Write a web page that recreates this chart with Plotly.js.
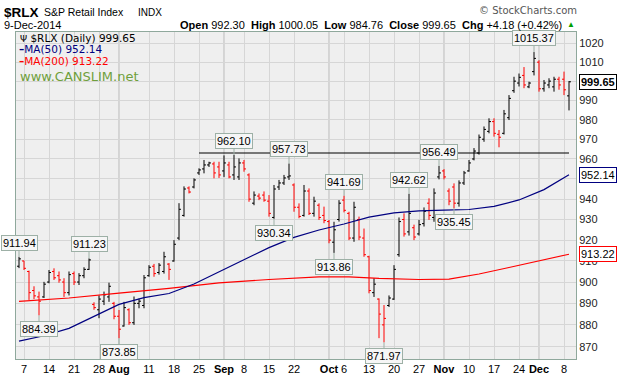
<!DOCTYPE html>
<html><head><meta charset="utf-8">
<script src="https://cdn.plot.ly/plotly-3.0.1.min.js"></script>
<style>html,body{margin:0;padding:0;background:#fff}#chart{width:617px;height:377px}</style>
</head><body><div id="chart"></div>
<script>
const dates = [
'2014-07-03','2014-07-07','2014-07-08','2014-07-09','2014-07-10','2014-07-11','2014-07-14','2014-07-15','2014-07-16','2014-07-17','2014-07-18','2014-07-21','2014-07-22','2014-07-23','2014-07-24','2014-07-25','2014-07-28','2014-07-29','2014-07-30','2014-07-31',
'2014-08-01','2014-08-04','2014-08-05','2014-08-06','2014-08-07','2014-08-08','2014-08-11','2014-08-12','2014-08-13','2014-08-14','2014-08-15','2014-08-18','2014-08-19','2014-08-20','2014-08-21','2014-08-22','2014-08-25','2014-08-26','2014-08-27','2014-08-28','2014-08-29',
'2014-09-02','2014-09-03','2014-09-04','2014-09-05','2014-09-08','2014-09-09','2014-09-10','2014-09-11','2014-09-12','2014-09-15','2014-09-16','2014-09-17','2014-09-18','2014-09-19','2014-09-22','2014-09-23','2014-09-24','2014-09-25','2014-09-26','2014-09-29','2014-09-30',
'2014-10-01','2014-10-02','2014-10-03','2014-10-06','2014-10-07','2014-10-08','2014-10-09','2014-10-10','2014-10-13','2014-10-14','2014-10-15','2014-10-16','2014-10-17','2014-10-20','2014-10-21','2014-10-22','2014-10-23','2014-10-24','2014-10-27','2014-10-28','2014-10-29','2014-10-30','2014-10-31',
'2014-11-03','2014-11-04','2014-11-05','2014-11-06','2014-11-07','2014-11-10','2014-11-11','2014-11-12','2014-11-13','2014-11-14','2014-11-17','2014-11-18','2014-11-19','2014-11-20','2014-11-21','2014-11-24','2014-11-25','2014-11-26','2014-11-28',
'2014-12-01','2014-12-02','2014-12-03','2014-12-04','2014-12-05','2014-12-08','2014-12-09'];

const opens = [907.5,910,905,896,893,893,900,905,903,900,
895,904,900,903,906,889.5,887,891,893,890,
884,879.5,887,881,890,889,903,907.5,904.5,905,
908.5,910,921,932,945.5,946,953,955,957,957.5,
956,954,957,952,951,958,952,938,941.5,942,
939,931,946,948,951,947,936,932,944,933,
937,932,929,919,930,939.5,933,921,930,921,
912,895,892,880,889,892,913,930,924,926,
923,928,938,931,951,954,944,946,938,948,
954,960,963,970,974,979,972.5,973,981,995,
999,1003,997,1005,1010,996,998,997,1001,1001,
992.30];
const highs = [911.94,910.1,905.4,898,895.5,900.1,905.7,906.5,905,901.8,
905,905,904.2,907,911.23,890.5,893.7,895.5,899.7,890.7,
886.9,890.7,887.7,893.2,892.2,903.3,908,908.6,909,914.4,
909,920,938,946.3,946.3,950.3,955.3,959.5,958.6,958.6,
958.6,961.8,958.6,962.10,960.3,959.5,952.8,943.8,942.8,943.8,
942,947,949.5,952,957.73,947.8,937.9,947,945.3,941.2,
937.9,936.3,929.8,928.9,939.5,941.69,933.8,938.7,931.4,925.6,
912.5,901.8,892.3,889.2,893.7,908,931,933,942.62,927.5,
929.8,935.9,940.4,945.3,956.49,954.9,945.3,947.8,949.3,954,
959.5,965.5,972.4,976.5,980.7,980.7,974.7,985,992.7,1002.3,
1004,1007.4,999.7,1015.37,1011,1000.6,1001.5,1002.3,1002.3,1005,
1000.05];
const lows = [906.6,905.7,891.6,892,884.39,892.5,899.4,901,899.7,893,
893.7,898.6,898.6,901.8,905.7,887,883.1,889.2,890.7,882.6,
873.85,879.2,880,880,887.7,887.7,902.5,902.5,903.5,904,
901,909.7,920,931.4,942.8,945.3,952,952.8,956,950.3,
950.5,951,950.3,949.5,949.5,953.6,938.7,937,939.5,938.7,
931.4,930.34,944.5,947,949.5,933.8,930.6,931.4,932.2,931.4,
929.8,928.2,918.5,913.86,929,933.5,920,919.2,920,912,
894.7,893,873.9,871.97,888.3,891.6,912,921.7,922.2,920,
922.2,926.6,929.8,928.9,949.8,949.8,937,935.45,936.3,947,
953.6,959.3,962.2,968.7,973,971.3,965.9,972.4,979.8,993.9,
997.2,996.3,996.3,1003,994.5,994.5,996.3,994.5,995.5,992.7,
984.76];
const closes = [911,906.5,895,893.5,891,899,904.5,902,901,895,
903.5,900,903,906,910.5,888,892,894,898,884,
878,888,881,890,891,902,907,904,908,912,
906,918,935,945,943.5,949.5,954.5,957,958,953,
952,958,951,956,958,955,940,942,940.5,939.5,
933,945,948,950.5,951.5,936,931.5,944,933,939,
931,929.5,920,925,938,934.5,921,936,921.5,913,
896,899,885,883,892.5,906,929,923,933,921.5,
927.5,934,932,943,953,951,939,938,948,953,
958,964,971,975,979,973,971,983,991,1000,
1002,998,999,1012,996,999,1000,1001,998,995.47,
999.65];

// moving averages read at sampled sessions
const ma50Idx = [0,5,10,15,20,25,30,35,40,45,50,55,60,65,70,75,80,85,90,95,100,105,110];
const ma50Val = [872.5,875.0,878.4,884.1,889.5,892.7,894.6,899.1,904.8,910.9,916.4,921.3,924.9,927.8,931.2,933.2,934.2,934.6,934.9,936.4,939.6,944.7,952.14];
const ma200Idx = [0,10,20,30,40,50,60,66,72,80,86,92,98,104,110];
const ma200Val = [890.9,892.5,894.8,897.0,899.6,901.2,902.4,902.4,901.7,901.2,901.4,903.8,906.9,910.0,913.22];

const resistanceLevel = 963;
const resistanceFrom = 36;

const highLabelIdx = [0,14,43,54,65,78,84,103];
const lowLabelIdx = [4,20,51,63,73,87];

const tickDates = ['2014-07-07','2014-07-14','2014-07-21','2014-07-28','2014-08-01','2014-08-11','2014-08-18','2014-08-25','2014-09-02','2014-09-08','2014-09-15','2014-09-22','2014-10-01','2014-10-06','2014-10-13','2014-10-20','2014-10-27','2014-11-03','2014-11-10','2014-11-17','2014-11-24','2014-12-01','2014-12-08'];
const tickLabels = ['7','14','21','28','<b>Aug</b>','11','18','25','<b>Sep</b>','8','15','22','<b>Oct</b>','6','13','20','27','<b>Nov</b>','10','17','24','<b>Dec</b>','8'];
const monthDates = ['2014-08-01','2014-09-02','2014-10-01','2014-11-03','2014-12-01'];
const yTicks = [870,880,890,900,910,920,930,940,950,960,970,980,990,1000,1010,1020];

const n = closes.length;
const up = {x:[],o:[],h:[],l:[],c:[]}, dn = {x:[],o:[],h:[],l:[],c:[]};
for (let i=0;i<n;i++){
  const g = (i===0 || closes[i] >= closes[i-1]) ? up : dn;
  g.x.push(dates[i]); g.o.push(opens[i]); g.h.push(highs[i]); g.l.push(lows[i]); g.c.push(closes[i]);
}
function ohlc(g,color){
  return {type:'ohlc', x:g.x, open:g.o, high:g.h, low:g.l, close:g.c, tickwidth:0.4,
    increasing:{line:{color:color,width:1}}, decreasing:{line:{color:color,width:1}},
    hoverinfo:'skip', showlegend:false};
}
const traces = [
  {type:'scatter', mode:'lines', x:ma200Idx.map(i=>dates[i]), y:ma200Val, line:{color:'#ff0000',width:1.2}, hoverinfo:'skip', showlegend:false},
  {type:'scatter', mode:'lines', x:ma50Idx.map(i=>dates[i]), y:ma50Val, line:{color:'#000080',width:1.2}, hoverinfo:'skip', showlegend:false},
  {type:'scatter', mode:'lines', x:[dates[resistanceFrom], dates[n-1]], y:[resistanceLevel,resistanceLevel], line:{color:'#000',width:1.2}, hoverinfo:'skip', showlegend:false},
  ohlc(up,'#000000'), ohlc(dn,'#ff0000')
];

const L = 16, R = 576, T = 32, B = 359;
const px = x => (x-L)/(R-L), py = y => (B-y)/(B-T);
const lg = Math.log10;
const boxStyle = {bgcolor:'#f6f6f6', bordercolor:'#9db0a6', borderwidth:1, borderpad:1, font:{size:11,color:'#000',family:'Liberation Sans, Arial'}};
const ann = [];
highLabelIdx.forEach(i=>ann.push(Object.assign({x:dates[i], y:lg(highs[i]), xref:'x', yref:'y', text:highs[i].toFixed(2), showarrow:true, arrowhead:0, arrowwidth:1, arrowcolor:'#9db0a6', ax:0, ay:-14, standoff:0}, boxStyle)));
lowLabelIdx.forEach(i=>ann.push(Object.assign({x:dates[i], y:lg(lows[i]), xref:'x', yref:'y', text:lows[i].toFixed(2), showarrow:true, arrowhead:0, arrowwidth:1, arrowcolor:'#9db0a6', ax:0, ay:14, standoff:0}, boxStyle)));

const last = n-1, chg = closes[last]-closes[last-1];
const AR = 'Liberation Sans, Arial';
ann.push({xref:'paper',yref:'paper',x:px(2),y:py(12),xanchor:'left',yanchor:'middle',showarrow:false,text:'<b>$RLX</b>',font:{size:13.5,color:'#000',family:AR}});
ann.push({xref:'paper',yref:'paper',x:px(42),y:py(12),xanchor:'left',yanchor:'middle',showarrow:false,text:'S&P Retail Index',font:{size:10.5,color:'#000',family:AR}});
ann.push({xref:'paper',yref:'paper',x:px(136),y:py(12),xanchor:'left',yanchor:'middle',showarrow:false,text:'INDX',font:{size:10,color:'#000',family:AR}});
ann.push({xref:'paper',yref:'paper',x:px(579),y:py(11),xanchor:'right',yanchor:'middle',showarrow:false,text:'© StockCharts.com',font:{size:10,color:'#555',family:'DejaVu Sans'}});
ann.push({xref:'paper',yref:'paper',x:px(2),y:py(24.5),xanchor:'left',yanchor:'middle',showarrow:false,text:'9-Dec-2014',font:{size:11,color:'#000',family:AR}});
ann.push({xref:'paper',yref:'paper',x:px(564),y:py(24.5),xanchor:'right',yanchor:'middle',showarrow:false,
  text:'<b>Open</b> '+opens[last].toFixed(2)+'  <b>High</b> '+highs[last].toFixed(2)+'  <b>Low</b> '+lows[last].toFixed(2)+'  <b>Close</b> '+closes[last].toFixed(2)+'  <b>Chg</b> +'+chg.toFixed(2)+' (+'+(chg/closes[last-1]*100).toFixed(2)+'%)',
  font:{size:11,color:'#000',family:AR}});
ann.push({xref:'paper',yref:'paper',x:px(565),y:py(25),xanchor:'left',yanchor:'middle',showarrow:false,text:'▲',font:{size:8,color:'#00a000'}});
// legend
ann.push({xref:'paper',yref:'paper',x:px(18),y:py(38),xanchor:'left',yanchor:'middle',showarrow:false,text:'<span style="font-size:9px">Ψ</span> $RLX (Daily) '+closes[last].toFixed(2),font:{size:10.5,color:'#000',family:'DejaVu Sans'}});
ann.push({xref:'paper',yref:'paper',x:px(17),y:py(49),xanchor:'left',yanchor:'middle',showarrow:false,text:'<span style="font-weight:bold">–</span>MA(50) '+ma50Val[ma50Val.length-1].toFixed(2),font:{size:10.5,color:'#000080',family:'DejaVu Sans'}});
ann.push({xref:'paper',yref:'paper',x:px(17),y:py(61),xanchor:'left',yanchor:'middle',showarrow:false,text:'<span style="font-weight:bold">–</span>MA(200) '+ma200Val[ma200Val.length-1].toFixed(2),font:{size:10.5,color:'#ff0000',family:'DejaVu Sans'}});
ann.push({xref:'paper',yref:'paper',x:px(18),y:py(76),xanchor:'left',yanchor:'middle',showarrow:false,text:'www.CANSLIM.net',font:{size:13,color:'#6f9f3c',family:'DejaVu Sans'}});
// right value tags (drawn over the axis labels, as in the reference)
const tag = (v,border,bold)=>({xref:'paper',yref:'y',x:1,y:lg(v),xanchor:'left',yanchor:'middle',xshift:3,showarrow:false,
  text:bold?'<b>'+v.toFixed(2)+'</b>':v.toFixed(2),bgcolor:'#fff',bordercolor:border,borderwidth:1,borderpad:1,font:{size:11,color:'#000',family:AR}});
ann.push(tag(closes[last],'#000',true));
ann.push(tag(ma50Val[ma50Val.length-1],'#000080',false));
ann.push(tag(ma200Val[ma200Val.length-1],'#ff0000',false));

const shapes = monthDates.map(d=>({type:'line',xref:'x',yref:'paper',x0:dates.indexOf(d),x1:dates.indexOf(d),y0:0,y1:1,line:{color:'#b8b8b8',width:1},layer:'below'}));

const layout = {
  width:617, height:377, margin:{l:L,r:617-R,t:T,b:377-B,pad:0},
  paper_bgcolor:'#fff', plot_bgcolor:'#efefef', showlegend:false, hovermode:false,
  font:{family:AR,size:11,color:'#000'},
  xaxis:{type:'category', categoryorder:'array', categoryarray:dates, range:[-0.6,n+0.4],
    tickmode:'array', tickvals:tickDates, ticktext:tickLabels, showgrid:true, gridcolor:'#d6d6d6', gridwidth:1,
    ticks:'', tickfont:{size:11,color:'#000'}, showline:true, linecolor:'#8fa89c', mirror:true,
    rangeslider:{visible:false}, zeroline:false, fixedrange:true},
  yaxis:{type:'log', side:'right', range:[lg(864.4), lg(1026.1)], tickmode:'array', tickvals:yTicks, ticktext:yTicks.map(String),
    showgrid:true, gridcolor:'#d6d6d6', ticks:'', tickfont:{size:11,color:'#222'}, showline:true, linecolor:'#8fa89c', mirror:true, zeroline:false, fixedrange:true},
  annotations:ann, shapes:shapes
};
Plotly.newPlot('chart', traces, layout, {staticPlot:true, displayModeBar:false});
</script></body></html>
